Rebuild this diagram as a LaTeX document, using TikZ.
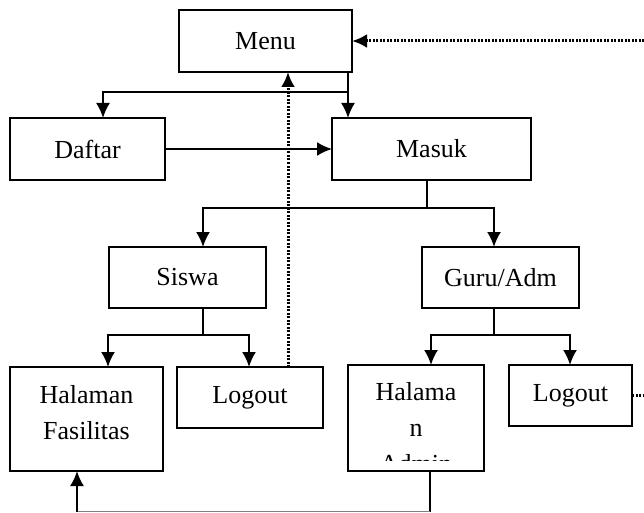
\documentclass[tikz,border=0pt]{standalone}
\usepackage{fontspec}
\setmainfont{Liberation Serif}
\usetikzlibrary{arrows.meta, calc}
\tikzset{
    my-box/.style={
        draw, rectangle, line width=2pt, inner sep=0pt, outer sep=0pt, align=center,
        font=\fontsize{26}{36}\selectfont
    },
    my-wire/.style={
        line width=2pt
    },
    my-thin/.style={
        line width=1.2pt
    },
    my-tip/.style={
        -{Latex[length=15pt, width=14pt]}
    },
    my-arrow/.style={
        line width=2pt, my-tip
    },
    my-dots/.style={
        line width=3pt, dash pattern=on 2pt off 1.5pt
    },
}

\begin{document}
\begin{tikzpicture}[x=1pt, y=-1pt]

        \useasboundingbox (0,0) rectangle (644,513);

        % BOXES
        \node[my-box, minimum width=173, minimum height=62]  (menu)    at (265.5, 41)  {Menu};
        \node[my-box, minimum width=155, minimum height=62]  (daftar)  at (87.5, 149)  {Daftar};
        \node[my-box, minimum width=199, minimum height=62]  (masuk)   at (431.5, 149) {Masuk};
        \node[my-box, minimum width=157, minimum height=61]  (siswa)   at (187.5, 277.5) {Siswa};
        \node[my-box, minimum width=157, minimum height=61]  (guru)    at (500.5, 277.5) {Guru/Adm};
        \node[my-box, minimum width=153, minimum height=104, text depth=14pt] (hfas) at (86.5, 419) {Halaman\\Fasilitas};
        \node[my-box, minimum width=146, minimum height=61]  (logouta) at (250, 397.5) {Logout};
        \node[my-box, minimum width=136, minimum height=106] (hadmin)  at (416, 418)   {};
        \node[my-box, minimum width=123, minimum height=61]  (logoutb) at (570.5, 395.5) {Logout};

        % TEXT OF HALAMAN ADMIN, CUT AT THE BOTTOM
        \begin{scope}
            \clip (hadmin.north west) rectangle ($(hadmin.south east) + (0, -11)$);
            \node[my-box, draw=none, anchor=north] (hadmintext) at ($(hadmin.north) + (0, 17)$) {Halama\\n\\Admin};
        \end{scope}

        % CONNECTOR POINTS
        \coordinate (MENUOUT)    at ($(menu.south east) + (-4, 0)$);
        \coordinate (MENUSPLIT)  at ($(MENUOUT) + (0, 20)$);
        \coordinate (MENUIN)     at ($(menu.south west) + (109, 0)$);
        \coordinate (MENUBACK)   at ($(menu.east) + (292, 0)$);
        \coordinate (DAFTARIN)   at ($(daftar.north west) + (93, 0)$);
        \coordinate (MASUKIN)    at ($(masuk.north west) + (16, 0)$);
        \coordinate (MASUKOUT)   at ($(masuk.south west) + (95, 0)$);
        \coordinate (MASUKSPLIT) at ($(MASUKOUT) + (0, 28)$);
        \coordinate (SISWAIN)    at ($(siswa.north west) + (94, 0)$);
        \coordinate (SISWAOUT)   at ($(siswa.south west) + (94, 0)$);
        \coordinate (SISWASPLIT) at ($(SISWAOUT) + (0, 27)$);
        \coordinate (GURUIN)     at ($(guru.north west) + (72, 0)$);
        \coordinate (GURUOUT)    at ($(guru.south west) + (72, 0)$);
        \coordinate (GURUSPLIT)  at ($(GURUOUT) + (0, 27)$);
        \coordinate (HFASIN)     at ($(hfas.north west) + (98, 0)$);
        \coordinate (HFASBACK)   at ($(hfas.south west) + (67, 0)$);
        \coordinate (LOGOUTAIN)  at ($(logouta.north west) + (72, 0)$);
        \coordinate (LOGOUTAUP)  at ($(logouta.north west) + (111, 0)$);
        \coordinate (HADMININ)   at ($(hadmin.north west) + (83, 0)$);
        \coordinate (HADMINOUT)  at ($(hadmin.south west) + (82, 0)$);
        \coordinate (HADMINDOWN) at ($(HADMINOUT) + (0, 40.5)$);
        \coordinate (LOGOUTBIN)  at ($(logoutb.north west) + (61, 0)$);
        \coordinate (LOGOUTBEND) at ($(logoutb.east) + (12, 0)$);

        % MENU TO DAFTAR AND MASUK
        \draw[my-arrow] (MENUOUT) -- (MASUKIN);
        \draw[my-arrow] (MENUSPLIT) -| (DAFTARIN);
        \draw[my-arrow] (daftar.east) -- (masuk.west);

        % MASUK TO SISWA AND GURU/ADM
        \draw[my-thin]  (MASUKOUT) -- (MASUKSPLIT);
        \draw[my-arrow] (MASUKSPLIT) -| (SISWAIN);
        \draw[my-arrow] (MASUKSPLIT) -| (GURUIN);

        % SISWA BRANCH
        \draw[my-thin]  (SISWAOUT) -- (SISWASPLIT);
        \draw[my-arrow] (SISWASPLIT) -| (HFASIN);
        \draw[my-arrow] (SISWASPLIT) -| (LOGOUTAIN);

        % GURU/ADM BRANCH
        \draw[my-thin]  (GURUOUT) -- (GURUSPLIT);
        \draw[my-arrow] (GURUSPLIT) -| (HADMININ);
        \draw[my-arrow] (GURUSPLIT) -| (LOGOUTBIN);

        % BACK TO MENU (DOTTED)
        \draw[my-dots, my-tip] (LOGOUTAUP) -- (MENUIN);
        \draw[my-dots, my-tip] (MENUBACK) -- (menu.east);
        \draw[my-dots] (logoutb.east) -- (LOGOUTBEND);

        % HALAMAN ADMIN BACK TO HALAMAN FASILITAS
        \draw[my-thin] (HADMINOUT) -- (HADMINDOWN);
        \draw[my-thin, gray] (HADMINDOWN) -- (HADMINDOWN -| HFASBACK);
        \draw[my-arrow] (HADMINDOWN -| HFASBACK) -- (HFASBACK);

    \end{tikzpicture}
\end{document}
